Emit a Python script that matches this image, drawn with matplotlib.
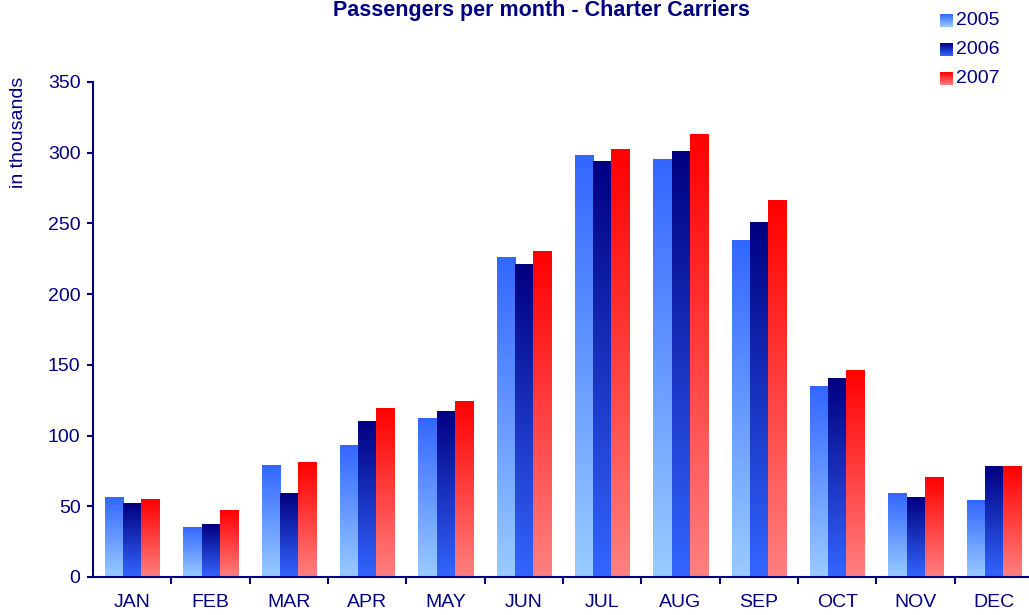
import numpy as np
import matplotlib
matplotlib.use("Agg")
import matplotlib.pyplot as plt
from matplotlib.colors import LinearSegmentedColormap

plt.rcParams['font.family'] = ['Liberation Sans', 'DejaVu Sans']

# data (thousands of passengers)
months = ['JAN', 'FEB', 'MAR', 'APR', 'MAY', 'JUN',
          'JUL', 'AUG', 'SEP', 'OCT', 'NOV', 'DEC']
years = ['2005', '2006', '2007']
y2005 = [56, 35, 79, 93, 112, 226, 298, 295, 238, 135, 59, 54]
y2006 = [52, 37, 59, 110, 117, 221, 294, 301, 251, 140, 56, 78]
y2007 = [55, 47, 81, 119, 124, 230, 302, 313, 266, 146, 70, 78]

navy = '#000080'
# gradient colours per series: (bottom, top)
grad_colors = [('#99CCFF', '#3366FF'),
               ('#3366FF', '#000080'),
               ('#FF8080', '#FF0000')]
cmaps = [LinearSegmentedColormap.from_list('g%d' % i, c) for i, c in enumerate(grad_colors)]
grad = np.linspace(0, 1, 256).reshape(-1, 1)

fig = plt.figure(figsize=(10.29, 6.15), dpi=100)
ax = fig.add_axes([0.0904, 0.0618, 0.9135, 0.8049])

bar_w = 0.23
series = [y2005, y2006, y2007]
for j, vals in enumerate(series):
    for i, v in enumerate(vals):
        x0 = i + (j - 1) * bar_w - bar_w / 2
        ax.imshow(grad, cmap=cmaps[j], extent=[x0, x0 + bar_w, 0, v],
                  origin='lower', aspect='auto', zorder=2, interpolation='bilinear')

ax.set_xlim(-0.5, 11.5)
ax.set_ylim(0, 350)

for s in ['top', 'right']:
    ax.spines[s].set_visible(False)
for s in ['left', 'bottom']:
    ax.spines[s].set_color(navy)
    ax.spines[s].set_linewidth(1.5)

ax.set_yticks(range(0, 351, 50))
ax.tick_params(axis='y', colors=navy, labelsize=14, length=4, width=1.5, pad=5)
ax.set_xticks(range(12))
ax.set_xticklabels(months)
ax.set_xticks(np.arange(0.5, 11.6, 1), minor=True)
ax.tick_params(axis='x', which='major', length=0, labelsize=14, colors=navy, pad=12)
ax.tick_params(axis='x', which='minor', length=5, width=1.5, color=navy)

fig.text(0.0175, 0.785, 'in thousands', rotation=90, color=navy, fontsize=14,
         ha='center', va='center')
fig.text(0.526, 0.983, 'Passengers per month - Charter Carriers', color=navy,
         fontsize=15.5, fontweight='bold', ha='center', va='center')

# legend with gradient swatches
W, H = 1029.0, 615.0
for j, yr in enumerate(years):
    top = 14 + j * 29
    sax = fig.add_axes([940 / W, 1 - (top + 13) / H, 13 / W, 13 / H])
    sax.imshow(grad, cmap=cmaps[j], origin='lower', aspect='auto', interpolation='bilinear')
    sax.axis('off')
    fig.text(956 / W, 1 - (top + 6.5) / H, yr, color=navy, fontsize=14,
             ha='left', va='center')

fig.savefig('out.png', dpi=100)
